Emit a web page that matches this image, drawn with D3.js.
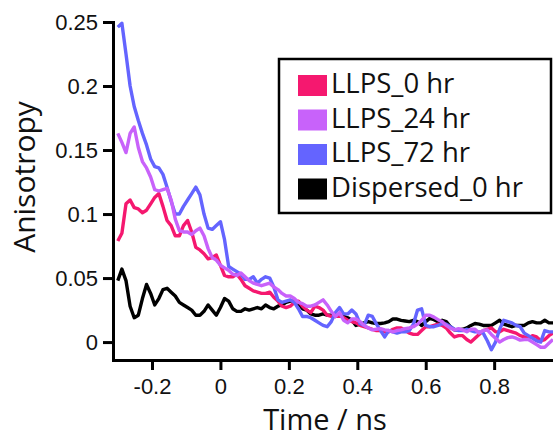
<!DOCTYPE html>
<html>
<head>
<meta charset="utf-8">
<script src="https://d3js.org/d3.v7.min.js"></script>
<style>
  html, body { margin: 0; padding: 0; background: #fff; overflow: hidden; }
  svg { display: block; font-family: "Open Sans", "Noto Sans", sans-serif; }
  .axis path, .axis line { stroke: #000; stroke-width: 3; }
  .axis text { fill: #111; font-size: 22px; }
</style>
</head>
<body>
<svg id="chart" width="553" height="439"></svg>
<script>
// time axis (ns), one sample every 0.012 ns
const time = [
  -0.300, -0.288, -0.276, -0.264, -0.252, -0.240, -0.228, -0.216, -0.204, -0.192,
  -0.180, -0.168, -0.156, -0.144, -0.132, -0.120, -0.108, -0.096, -0.084, -0.072,
  -0.060, -0.048, -0.036, -0.024, -0.012, 0.000, 0.012, 0.024, 0.036, 0.048,
  0.060, 0.072, 0.084, 0.096, 0.108, 0.120, 0.132, 0.144, 0.156, 0.168,
  0.180, 0.192, 0.204, 0.216, 0.228, 0.240, 0.252, 0.264, 0.276, 0.288,
  0.300, 0.312, 0.324, 0.336, 0.348, 0.360, 0.372, 0.384, 0.396, 0.408,
  0.420, 0.432, 0.444, 0.456, 0.468, 0.480, 0.492, 0.504, 0.516, 0.528,
  0.540, 0.552, 0.564, 0.576, 0.588, 0.600, 0.612, 0.624, 0.636, 0.648,
  0.660, 0.672, 0.684, 0.696, 0.708, 0.720, 0.732, 0.744, 0.756, 0.768,
  0.780, 0.792, 0.804, 0.816, 0.828, 0.840, 0.852, 0.864, 0.876, 0.888,
  0.900, 0.912, 0.924, 0.936, 0.948, 0.960, 0.972
];

const llps0 = [
  0.079, 0.085, 0.108, 0.111, 0.105, 0.104, 0.101, 0.103, 0.108, 0.113,
  0.116, 0.106, 0.095, 0.091, 0.083, 0.083, 0.091, 0.095, 0.086, 0.074,
  0.072, 0.069, 0.065, 0.066, 0.068, 0.060, 0.052, 0.051, 0.051, 0.053,
  0.049, 0.044, 0.042, 0.040, 0.039, 0.038, 0.038, 0.039, 0.035, 0.032,
  0.028, 0.027, 0.028, 0.031, 0.032, 0.028, 0.025, 0.023, 0.028, 0.027,
  0.025, 0.021, 0.020, 0.020, 0.021, 0.019, 0.017, 0.016, 0.015, 0.013,
  0.012, 0.011, 0.010, 0.009, 0.009, 0.008, 0.008, 0.010, 0.011, 0.011,
  0.009, 0.007, 0.006, 0.006, 0.009, 0.012, 0.012, 0.013, 0.014, 0.013,
  0.011, 0.007, 0.004, 0.005, 0.005, 0.002, 0.000, 0.003, 0.006, 0.009,
  0.010, 0.011, 0.008, 0.008, 0.010, 0.009, 0.008, 0.007, 0.005, 0.004,
  0.003, 0.005, 0.004, 0.001, 0.002, 0.005, 0.007
];

const llps24 = [
  0.163, 0.156, 0.148, 0.163, 0.168, 0.152, 0.141, 0.136, 0.129, 0.119,
  0.118, 0.119, 0.120, 0.111, 0.096, 0.087, 0.086, 0.086, 0.084, 0.087,
  0.089, 0.083, 0.073, 0.066, 0.064, 0.060, 0.058, 0.056, 0.053, 0.052,
  0.054, 0.051, 0.048, 0.046, 0.045, 0.044, 0.045, 0.046, 0.043, 0.041,
  0.038, 0.036, 0.036, 0.034, 0.031, 0.030, 0.028, 0.028, 0.029, 0.031,
  0.033, 0.029, 0.024, 0.020, 0.023, 0.017, 0.015, 0.018, 0.018, 0.016,
  0.013, 0.011, 0.0095, 0.010, 0.0105, 0.0095, 0.009, 0.008, 0.009, 0.0095,
  0.0105, 0.011, 0.012, 0.014, 0.017, 0.021, 0.021, 0.0195, 0.0175, 0.016,
  0.013, 0.011, 0.0095, 0.0105, 0.0095, 0.008, 0.010, 0.010, 0.007, 0.009,
  0.0095, 0.006, 0.003, 0.000, 0.002, 0.0035, 0.004, 0.003, 0.0015, 0.002,
  0.002, 0.000, -0.002, -0.004, -0.004, -0.001, 0.002
];

const llps72 = [
  0.246, 0.249, 0.225, 0.200, 0.184, 0.173, 0.163, 0.154, 0.143, 0.137,
  0.136, 0.131, 0.121, 0.110, 0.100, 0.100, 0.106, 0.111, 0.116, 0.121,
  0.115, 0.100, 0.089, 0.088, 0.091, 0.094, 0.080, 0.059, 0.057, 0.055,
  0.053, 0.049, 0.049, 0.051, 0.046, 0.049, 0.051, 0.050, 0.043, 0.033,
  0.031, 0.032, 0.033, 0.031, 0.026, 0.020, 0.020, 0.019, 0.017, 0.015,
  0.013, 0.012, 0.016, 0.023, 0.027, 0.022, 0.022, 0.025, 0.022, 0.0145,
  0.013, 0.021, 0.020, 0.014, 0.009, 0.004, 0.009, 0.008, 0.007, 0.008,
  0.008, 0.009, 0.014, 0.025, 0.026, 0.013, 0.012, 0.012, 0.013, 0.0145,
  0.014, 0.012, 0.010, 0.009, 0.009, 0.010, 0.009, 0.008, 0.008, 0.007,
  0.001, -0.006, 0.000, 0.010, 0.017, 0.016, 0.015, 0.013, 0.012, 0.007,
  0.005, 0.003, 0.001, 0.000, 0.009, 0.008, 0.008
];

const dispersed0 = [
  0.048, 0.057, 0.048, 0.028, 0.019, 0.021, 0.034, 0.045, 0.038, 0.029,
  0.034, 0.041, 0.042, 0.039, 0.036, 0.031, 0.029, 0.027, 0.025, 0.021,
  0.021, 0.024, 0.029, 0.025, 0.021, 0.027, 0.034, 0.032, 0.026, 0.024,
  0.024, 0.026, 0.025, 0.026, 0.027, 0.026, 0.029, 0.027, 0.026, 0.028,
  0.029, 0.031, 0.032, 0.032, 0.030, 0.026, 0.025, 0.022, 0.021, 0.021,
  0.022, 0.021, 0.021, 0.020, 0.021, 0.020, 0.019, 0.017, 0.013, 0.014,
  0.015, 0.016, 0.015, 0.0145, 0.0145, 0.015, 0.016, 0.018, 0.018, 0.017,
  0.0165, 0.016, 0.017, 0.016, 0.013, 0.016, 0.0185, 0.0175, 0.016, 0.017,
  0.016, 0.012, 0.0095, 0.0095, 0.010, 0.011, 0.013, 0.0145, 0.014, 0.013,
  0.013, 0.013, 0.015, 0.017, 0.014, 0.013, 0.012, 0.013, 0.013, 0.013,
  0.015, 0.016, 0.015, 0.015, 0.017, 0.015, 0.015
];

const seriesNames = ['LLPS_0 hr', 'LLPS_24 hr', 'LLPS_72 hr', 'Dispersed_0 hr'];
const seriesValues = [llps0, llps24, llps72, dispersed0];
const colors = ['#f5186f', '#c862fa', '#6464ff', '#000000'];
const drawOrder = [3, 0, 2, 1];

const xTicks = [-0.2, 0, 0.2, 0.4, 0.6, 0.8];
const yTicks = [0, 0.05, 0.1, 0.15, 0.2, 0.25];

const svg = d3.select('#chart');
const plot = {left: 113, right: 553, top: 22, bottom: 360};

const x = d3.scaleLinear()
    .domain([-0.314, 0.972])
    .range([plot.left, plot.right]);
const y = d3.scaleLinear()
    .domain([-0.014, 0.25])
    .range([plot.bottom, plot.top]);

svg.append('clipPath')
    .attr('id', 'plot-clip')
    .append('rect')
    .attr('x', plot.left + 1)
    .attr('y', 0)
    .attr('width', plot.right - plot.left)
    .attr('height', plot.bottom - 1);

const line = d3.line()
    .x((d, i) => x(time[i]))
    .y(d => y(d));

svg.append('g')
    .attr('clip-path', 'url(#plot-clip)')
    .selectAll('path')
    .data(drawOrder)
    .join('path')
    .attr('d', k => line(seriesValues[k]))
    .attr('fill', 'none')
    .attr('stroke', k => colors[k])
    .attr('stroke-width', 3.4)
    .attr('stroke-linejoin', 'round');

// axes
const yAxis = d3.axisLeft(y)
    .tickValues(yTicks)
    .tickSize(10)
    .tickSizeOuter(0)
    .tickPadding(5)
    .tickFormat(d => String(d));
svg.append('g')
    .attr('class', 'axis')
    .attr('transform', `translate(${plot.left},0)`)
    .call(yAxis);

const xAxis = d3.axisBottom(x)
    .tickValues(xTicks)
    .tickSize(10)
    .tickSizeOuter(0)
    .tickPadding(8)
    .tickFormat(d => String(d));
svg.append('g')
    .attr('class', 'axis')
    .attr('transform', `translate(0,${plot.bottom})`)
    .call(xAxis);

svg.selectAll('.axis .domain').attr('stroke-linecap', 'square');

// axis titles
svg.append('text')
    .attr('x', 325)
    .attr('y', 430)
    .attr('text-anchor', 'middle')
    .attr('font-size', 29)
    .attr('fill', '#111')
    .text('Time / ns');

svg.append('text')
    .attr('transform', 'translate(35,177) rotate(-90)')
    .attr('text-anchor', 'middle')
    .attr('font-size', 30)
    .attr('fill', '#111')
    .text('Anisotropy');

// legend
const legend = svg.append('g');
legend.append('rect')
    .attr('x', 279)
    .attr('y', 59)
    .attr('width', 272)
    .attr('height', 154)
    .attr('fill', '#fff')
    .attr('stroke', '#000')
    .attr('stroke-width', 2.5);

const rows = legend.selectAll('g.row')
    .data(seriesNames)
    .join('g')
    .attr('class', 'row')
    .attr('transform', (d, i) => `translate(298,${93 + i * 34.5})`);
rows.append('rect')
    .attr('x', 0)
    .attr('y', -18)
    .attr('width', 29)
    .attr('height', 21)
    .attr('fill', (d, i) => colors[i]);
rows.append('text')
    .attr('x', 33)
    .attr('y', 0)
    .attr('font-size', 27.5)
    .attr('fill', '#111')
    .text(d => d);
</script>
</body>
</html>
